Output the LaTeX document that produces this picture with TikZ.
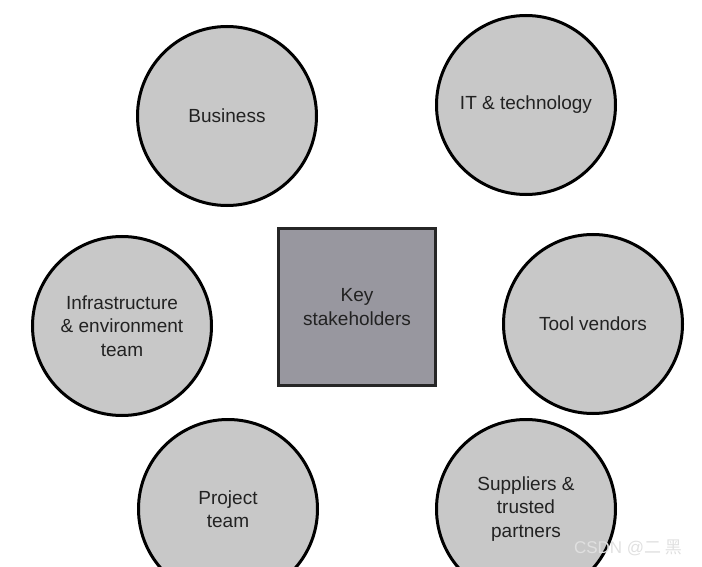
\documentclass[tikz,border=0pt]{standalone}
\usepackage{fontspec}
\setmainfont{Liberation Sans}
\newfontfamily\cjk{Noto Sans CJK SC}
\definecolor{ringgray}{HTML}{C8C8C8}
\definecolor{keygray}{HTML}{98979F}
\definecolor{inkgray}{HTML}{222222}
\begin{document}
\begin{tikzpicture}[x=1pt, y=-1pt, party/.style={circle, draw=black,
      fill=ringgray, line width=3pt, minimum size=179pt, inner sep=0pt,
      align=center, text=inkgray, font=\fontsize{19}{23.5}\selectfont},
    keybox/.style={rectangle, draw=black!85, fill=keygray, line
      width=3pt, minimum size=157pt, align=center, text=inkgray,
      font=\fontsize{19}{23.5}\selectfont}]
    \useasboundingbox (0,0) rectangle (702,567);
    \begin{scope}[every node/.style={party}]
      \node (business) at (227,116) {Business}; \node (it) at
      (526,105) {IT \& technology}; \node (infra) at (122,326)
      {Infrastructure\\ \& environment\\ team}; \node (tools) at
      (593,324) {Tool vendors}; \node (project) at (228,509)
      {Project\\ team}; \node (suppliers) at (526,509) {Suppliers
        \&\\ trusted\\ partners};
    \end{scope}
    \node [keybox] (key) at (357,307) {Key\\ stakeholders};

    \node [text=white!88!black, font=\fontsize{17}{20}\selectfont,
    anchor=center] (mark) at (628,548) {CSDN @{\cjk 二 黑}};

  \end{tikzpicture}
\end{document}
